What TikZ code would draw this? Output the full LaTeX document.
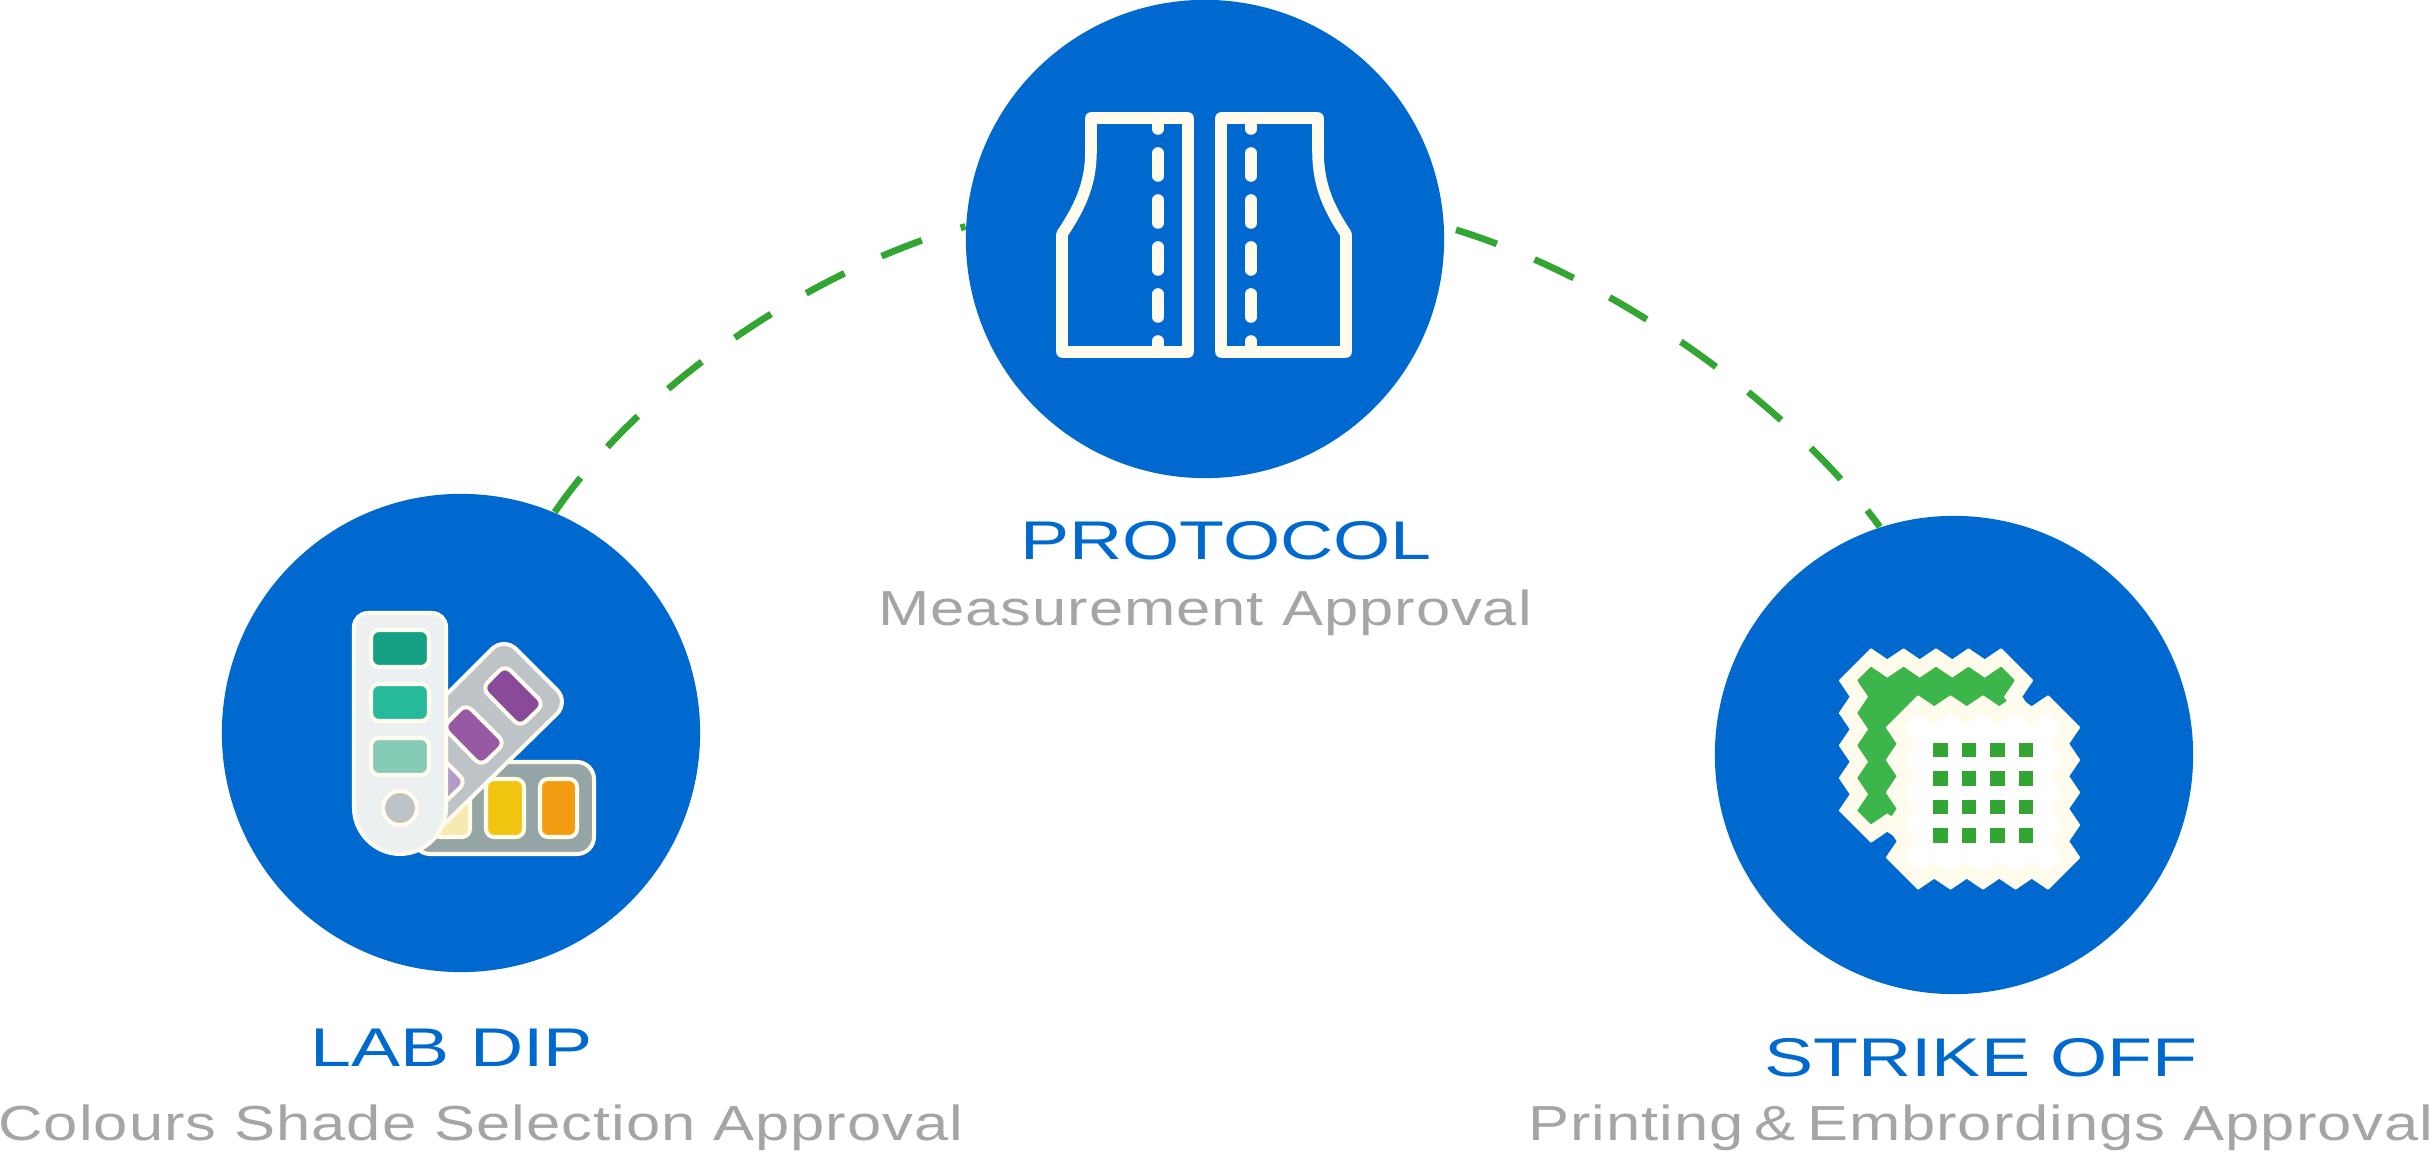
\documentclass[tikz,border=0pt]{standalone}
\usepackage{fontspec}
\newfontfamily\stepfont[FakeStretch=1.35]{Liberation Sans}
\newfontfamily\approvalfont[FakeStretch=1.25,LetterSpace=2]{Liberation Sans}
\definecolor{stepblue}{HTML}{0069CF}
\definecolor{dashgreen}{HTML}{33A532}
\definecolor{fabricgreen}{HTML}{3CB54A}
\definecolor{cream}{HTML}{FFFCEE}
\definecolor{subgrey}{HTML}{A5A5A5}
\tikzset{
  stepcircle/.style={circle,fill=stepblue,minimum size=4.78cm,inner sep=0pt},
  titletext/.style={anchor=base,text=stepblue,inner sep=0pt,font=\stepfont\fontsize{15.5}{18}\selectfont},
  subtext/.style={anchor=base,text=subgrey,inner sep=0pt,font=\approvalfont\fontsize{14}{17}\selectfont},
  connector/.style={draw=dashgreen,line width=1.9pt,dash pattern=on 12.3pt off 11.6pt},
  cardline/.style={draw=cream,line width=1.14pt},
  swatch/.style={cardline,rounded corners=.8mm},
  pattern/.style={draw=cream,line width=3.3pt,line join=round},
  seam/.style={draw=cream,line width=3.3pt,line cap=round},
  fabric/.style={line width=.6pt,line join=round}
}
\newcommand{\zigswatch}[4][]{%
  \filldraw[fabric,#1] ({#2-65},{#3-#4})
    \foreach \o in {-65,-32.5,0,32.5} {-- ({#2+\o},{#3-#4}) -- ({#2+\o+16.25},{#3-#4+11})} -- ({#2+65},{#3-#4})
    \foreach \o in {-65,-32.5,0,32.5} {-- ({#2+#4},{#3+\o}) -- ({#2+#4-11},{#3+\o+16.25})} -- ({#2+#4},{#3+65})
    \foreach \o in {65,32.5,0,-32.5} {-- ({#2+\o},{#3+#4}) -- ({#2+\o-16.25},{#3+#4-11})} -- ({#2-65},{#3+#4})
    \foreach \o in {65,32.5,0,-32.5} {-- ({#2-#4},{#3+\o}) -- ({#2-#4+11},{#3+\o-16.25})} -- ({#2-#4},{#3-65})
    -- cycle;
}
\begin{document}
\begin{tikzpicture}[x=.01cm,y=-.01cm]
\useasboundingbox (0,0) rectangle (2435,1164);

\node[stepcircle] (labdip) at (461,733) {};
\node[stepcircle] (protocol) at (1205,239) {};
\node[stepcircle] (strikeoff) at (1954,755) {};

\draw[connector] (labdip.67) .. controls (642,385) and (810,270) .. (protocol.177);
\draw[connector,dash phase=20.5pt] (protocol.3) .. controls (1608,273) and (1789,403) .. (strikeoff.108.7);

\node[titletext] (labdiptitle) at (452,1067) {LAB DIP};
\node[subtext] (labdipsub) at (481,1140) {Colours Shade Selection Approval};
\node[titletext] (protocoltitle) at (1226,560) {PROTOCOL};
\node[subtext] (protocolsub) at (1205,626) {Measurement Approval};
\node[titletext] (strikeofftitle) at (1981,1076) {STRIKE OFF};
\node[subtext] (strikeoffsub) at (1981,1140) {Printing\kern-2pt{} \& \kern-2pt{}Embrordings Approval};

% colour fan
\draw[swatch,fill={rgb,255:red,149;green,165;blue,166},rounded corners=1.7mm] (413,762) rectangle (594,854);
\draw[swatch,fill={rgb,255:red,243;green,156;blue,18}] (540,779) rectangle (577,837);
\draw[swatch,fill={rgb,255:red,241;green,196;blue,15}] (486,779) rectangle (524,837);
\draw[swatch,fill={rgb,255:red,247;green,233;blue,176}] (432,779) rectangle (470,837);
\draw[swatch,fill={rgb,255:red,189;green,195;blue,199},rounded corners=1.7mm] (427,841) -- (427,714) -- (504,637) -- (569,702) -- (427,841);
\draw[swatch,fill={rgb,255:red,138;green,74;blue,154}] (505,665) -- (544,704) -- (520,727) -- (482,688) -- cycle;
\draw[swatch,fill={rgb,255:red,150;green,90;blue,165}] (466,704) -- (505,743) -- (481,766) -- (443,727) -- cycle;
\draw[swatch,fill={rgb,255:red,179;green,155;blue,200}] (427,743) -- (466,782) -- (442,805) -- (404,766) -- cycle;
\draw[cardline,fill={rgb,255:red,236;green,240;blue,241}] (354,808) -- (354,627)
  .. controls (354,619) and (360,613) .. (368,613) -- (432,613)
  .. controls (440,613) and (446,619) .. (446,627) -- (446,808)
  .. controls (446,833) and (425,854) .. (400,854) .. controls (375,854) and (354,833) .. (354,808) -- cycle;
\draw[swatch,fill={rgb,255:red,22;green,160;blue,133}] (371,630) rectangle (429,667);
\draw[swatch,fill={rgb,255:red,38;green,185;blue,154}] (371,684) rectangle (429,721);
\draw[swatch,fill={rgb,255:red,133;green,203;blue,181}] (371,738) rectangle (429,775);
\draw[cardline,fill={rgb,255:red,189;green,195;blue,199}] (400,808) circle (17);

% pattern pieces
\draw[pattern] (1188,118) -- (1188,352) -- (1062,352) -- (1062,234)
  .. controls (1083,203) and (1091,180) .. (1091,150) -- (1091,118) -- cycle;
\draw[pattern] (1221,118) -- (1221,352) -- (1346,352) -- (1346,234)
  .. controls (1325,203) and (1318,180) .. (1318,150) -- (1318,118) -- cycle;
\foreach \sx in {1158,1251} {
  \draw[seam] (\sx,118) -- (\sx,129);
  \foreach \sy in {153,200,247,294} {
    \draw[seam] (\sx,\sy) -- (\sx,\sy+23);
  }
  \draw[seam] (\sx,341) -- (\sx,352);
}

% fabric samples
\zigswatch[draw=cream,fill=cream]{1936}{745.5}{96}
\zigswatch[draw=fabricgreen,fill=fabricgreen]{1936}{745.5}{77.5}
\zigswatch[draw=cream,fill=cream]{1983}{792.5}{96}
\zigswatch[draw=white,fill=white]{1983}{792.5}{77.5}
\foreach \fx in {1940.7,1969,1997.3,2026} {
  \foreach \fy in {750,778.3,807,835.3} {
    \fill[dashgreen] (\fx-7.3,\fy-7.3) rectangle (\fx+7.3,\fy+7.3);
  }
}
\end{tikzpicture}
\end{document}
